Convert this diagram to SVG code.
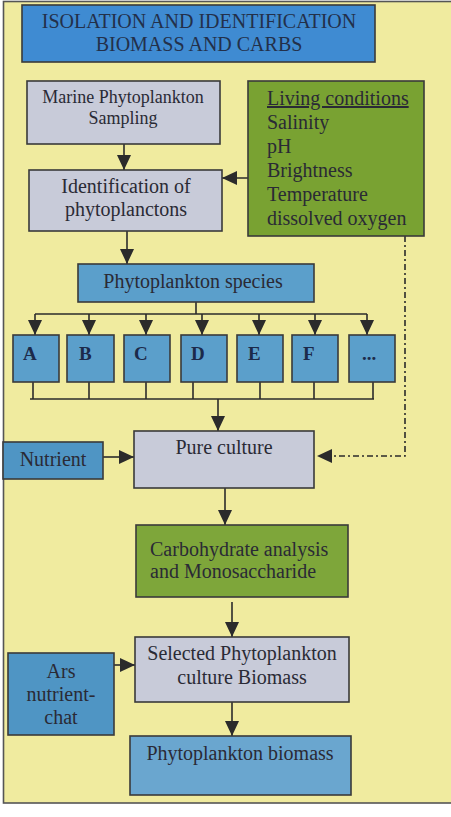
<svg xmlns="http://www.w3.org/2000/svg" width="451" height="817" viewBox="0 0 451 817">
<defs>
<marker id="ah" viewBox="0 0 15 14" refX="15" refY="7" markerWidth="15" markerHeight="14" markerUnits="userSpaceOnUse" orient="auto">
<path d="M0,0 L15,7 L0,14 Z" fill="#2b2b2b"/>
</marker>
<style>
.t{font-family:"Liberation Serif","Times New Roman",serif;fill:#2a2a35;font-size:20px}
.c{text-anchor:middle}
.box{stroke:#3a3a3a;stroke-width:1.6}
.gray{fill:#c8cbd9}
.green{fill:#7ea63a}
.blue{fill:#5b9fcb}
.ln{stroke:#2b2b2b;stroke-width:1.6;fill:none}
.lt{font-family:"Liberation Serif","Times New Roman",serif;font-weight:bold;font-size:19px;fill:#1c2a4a}
</style>
</defs>
<rect x="0" y="0" width="451" height="817" fill="#ffffff"/>
<rect x="3.5" y="1.5" width="452" height="801.5" fill="#f0eb9f" stroke="#555555" stroke-width="1.6"/>

<g id="connectors">
<line class="ln" x1="124" y1="134" x2="124" y2="170" marker-end="url(#ah)"/>
<line class="ln" x1="255" y1="178" x2="222" y2="178" marker-end="url(#ah)"/>
<line class="ln" x1="127" y1="231" x2="127" y2="264" marker-end="url(#ah)"/>
<line class="ln" x1="196" y1="302" x2="196" y2="314"/>
<line class="ln" x1="35" y1="314" x2="367" y2="314"/>
<line class="ln" x1="35" y1="314" x2="35" y2="335" marker-end="url(#ah)"/>
<line class="ln" x1="89" y1="314" x2="89" y2="335" marker-end="url(#ah)"/>
<line class="ln" x1="146" y1="314" x2="146" y2="335" marker-end="url(#ah)"/>
<line class="ln" x1="202" y1="314" x2="202" y2="335" marker-end="url(#ah)"/>
<line class="ln" x1="259" y1="314" x2="259" y2="335" marker-end="url(#ah)"/>
<line class="ln" x1="315" y1="314" x2="315" y2="335" marker-end="url(#ah)"/>
<line class="ln" x1="367" y1="314" x2="367" y2="335" marker-end="url(#ah)"/>
<line class="ln" x1="33" y1="382" x2="33" y2="399"/>
<line class="ln" x1="89" y1="382" x2="89" y2="399"/>
<line class="ln" x1="146" y1="382" x2="146" y2="399"/>
<line class="ln" x1="193" y1="382" x2="193" y2="399"/>
<line class="ln" x1="260" y1="382" x2="260" y2="399"/>
<line class="ln" x1="314" y1="382" x2="314" y2="399"/>
<line class="ln" x1="373" y1="382" x2="373" y2="399"/>
<line class="ln" x1="30" y1="399" x2="374" y2="399"/>
<line class="ln" x1="218" y1="399" x2="218" y2="431" marker-end="url(#ah)"/>
<line class="ln" x1="103" y1="457" x2="134" y2="457" marker-end="url(#ah)"/>
<polyline class="ln" points="405,236 405,456 317,456" stroke-dasharray="6,3,2,3" marker-end="url(#ah)"/>
<line class="ln" x1="225" y1="488" x2="225" y2="525" marker-end="url(#ah)"/>
<line class="ln" x1="232" y1="602" x2="232" y2="637" marker-end="url(#ah)"/>
<line class="ln" x1="107" y1="665" x2="135" y2="665" marker-end="url(#ah)"/>
<line class="ln" x1="232" y1="702" x2="232" y2="736" marker-end="url(#ah)"/>
</g>

<g id="title">
<rect class="box" x="22" y="5" width="353" height="57" fill="#3f8bd2"/>
<text class="t c" x="199" y="28" style="fill:#23304a">ISOLATION AND IDENTIFICATION</text>
<text class="t c" x="199" y="51" style="fill:#23304a">BIOMASS AND CARBS</text>
</g>

<g id="marine">
<rect class="box gray" x="27" y="81" width="193" height="63"/>
<text class="t c" x="123" y="103" style="font-size:18px">Marine Phytoplankton</text>
<text class="t c" x="123" y="124" style="font-size:18px">Sampling</text>
</g>

<g id="living">
<rect class="box" x="248" y="81" width="176" height="155" fill="#79a232"/>
<text class="t" x="267" y="105" text-decoration="underline">Living conditions</text>
<text class="t" x="267" y="129">Salinity</text>
<text class="t" x="267" y="153">pH</text>
<text class="t" x="267" y="177">Brightness</text>
<text class="t" x="267" y="201">Temperature</text>
<text class="t" x="267" y="225">dissolved oxygen</text>
</g>

<g id="identification">
<rect class="box gray" x="29" y="170" width="193" height="61"/>
<text class="t c" x="126" y="193">Identification of</text>
<text class="t c" x="126" y="216">phytoplanctons</text>
</g>

<g id="species">
<rect class="box blue" x="78" y="264" width="236" height="38"/>
<text class="t c" x="193" y="288">Phytoplankton species</text>
</g>

<g id="nodeA"><rect class="box blue" x="13" y="335" width="46" height="47"/><text class="lt" x="23" y="360">A</text></g>
<g id="nodeB"><rect class="box blue" x="67" y="335" width="47" height="47"/><text class="lt" x="79" y="360">B</text></g>
<g id="nodeC"><rect class="box blue" x="124" y="335" width="46" height="47"/><text class="lt" x="134" y="360">C</text></g>
<g id="nodeD"><rect class="box blue" x="181" y="335" width="46" height="47"/><text class="lt" x="191" y="360">D</text></g>
<g id="nodeE"><rect class="box blue" x="237" y="335" width="46" height="47"/><text class="lt" x="248" y="360">E</text></g>
<g id="nodeF"><rect class="box blue" x="292" y="335" width="46" height="47"/><text class="lt" x="303" y="360">F</text></g>
<g id="nodeMore"><rect class="box blue" x="349" y="335" width="46" height="47"/><text class="lt" x="362" y="360">...</text></g>

<g id="nutrient">
<rect class="box" x="3" y="442" width="100" height="37" fill="#4f95c4"/>
<text class="t c" x="53" y="466">Nutrient</text>
</g>

<g id="pure">
<rect class="box gray" x="134" y="431" width="180" height="57"/>
<text class="t c" x="224" y="454">Pure culture</text>
</g>

<g id="carb">
<rect class="box green" x="136" y="525" width="212" height="72"/>
<text class="t" x="150" y="556">Carbohydrate analysis</text>
<text class="t" x="150" y="578">and Monosaccharide</text>
</g>

<g id="selected">
<rect class="box gray" x="135" y="637" width="214" height="65"/>
<text class="t c" x="242" y="660">Selected Phytoplankton</text>
<text class="t c" x="242" y="684">culture Biomass</text>
</g>

<g id="ars">
<rect class="box" x="8" y="653" width="106" height="82" fill="#4f95c4"/>
<text class="t c" x="61" y="678">Ars</text>
<text class="t c" x="61" y="701">nutrient-</text>
<text class="t c" x="61" y="724">chat</text>
</g>

<g id="biomass">
<rect class="box" x="130" y="736" width="221" height="59" fill="#6aa6cf"/>
<text class="t c" x="240" y="760">Phytoplankton biomass</text>
</g>
</svg>
